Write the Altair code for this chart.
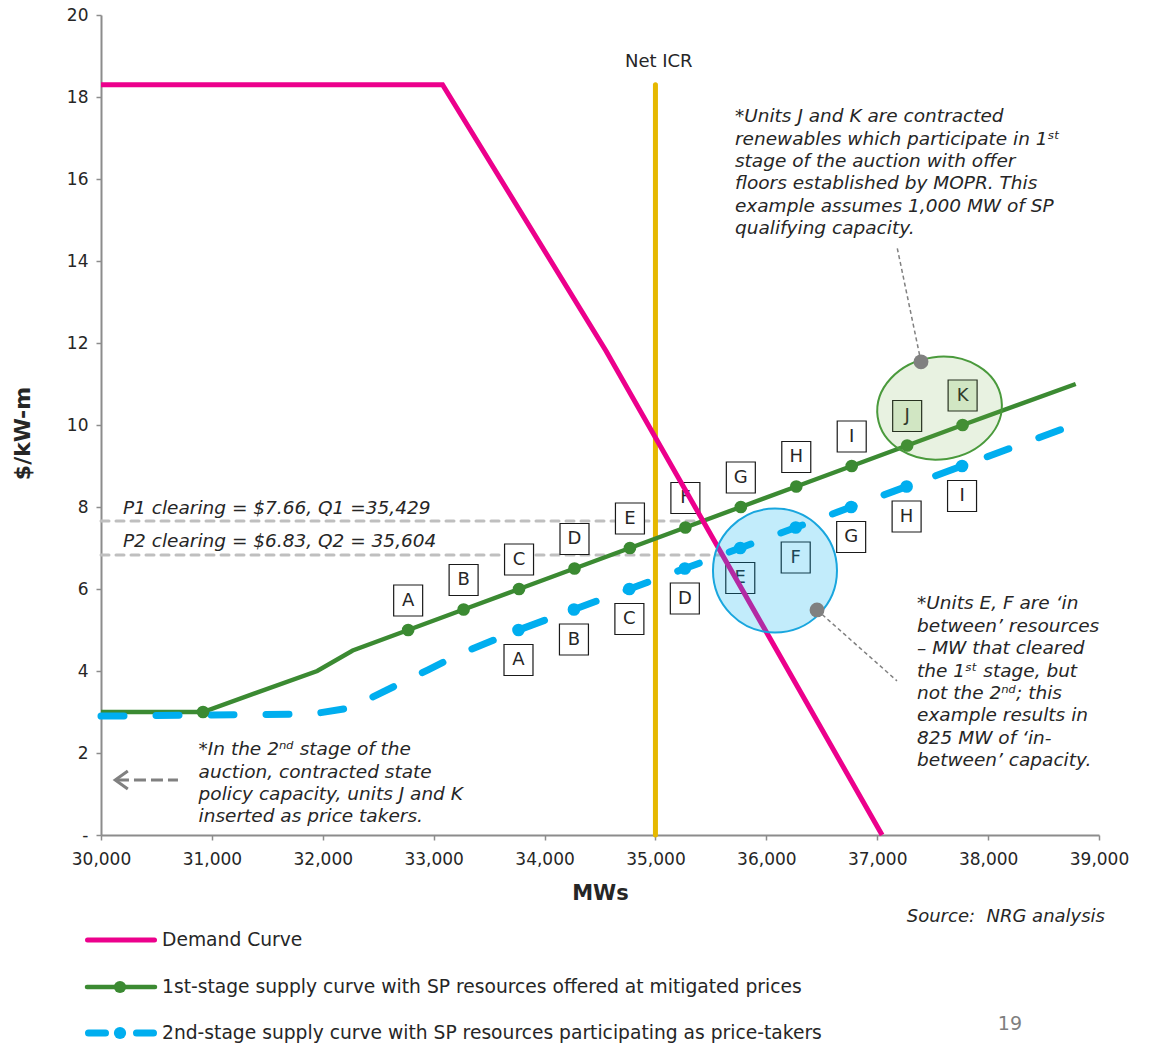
import altair as alt
import pandas as pd

FONT = "DejaVu Sans"
PINK = "#EC008C"
GREEN = "#3B8A32"
BLUE = "#00AEEF"
GOLD = "#E6B800"
GREY = "#808080"
LIGHTGREY = "#BFBFBF"
TEXT = "#262626"

# ---------------- data ----------------
demand_mw = [30000, 33080, 34556, 37044]
demand_price = [18.3, 18.3, 11.8, 0.0]

stage1_mw = [30000, 30920, 31950, 32270, 32770, 33270, 33770, 34270, 34770,
             35270, 35770, 36270, 36770, 37270, 37770, 38790]
stage1_price = [3.0, 3.0, 4.0, 4.5, 5.0, 5.5, 6.0, 6.5, 7.0, 7.5, 8.0, 8.5,
                9.0, 9.5, 10.0, 11.0]
stage1_dot = [0, 1, 0, 0, 1, 1, 1, 1, 1, 1, 1, 1, 1, 1, 1, 0]
stage1_unit = ["", "", "", "", "A", "B", "C", "D", "E", "F", "G", "H", "I",
               "J", "K", ""]

stage2_mw = [30000, 31900, 32250, 32950, 33265, 33765, 34265, 34765, 35265,
             35765, 36265, 36765, 37265, 37765, 38850]
stage2_price = [2.9, 2.95, 3.1, 4.03, 4.45, 5.0, 5.5, 6.0, 6.5, 7.0, 7.5, 8.0,
                8.5, 9.0, 10.08]
stage2_unit = ["", "", "", "", "", "A", "B", "C", "D", "E", "F", "G", "H", "I", ""]

net_icr_mw = [35000]
net_icr_top = [18.3]

clearing_price = [7.66, 6.83]
clearing_mw = [35429, 35604]
clearing_text = ["P1 clearing = $7.66, Q1 =35,429",
                 "P2 clearing = $6.83, Q2 = 35,604"]

legend_names = [
    "Demand Curve",
    "1st-stage supply curve with SP resources offered at mitigated prices",
    "2nd-stage supply curve with SP resources participating as price-takers",
]

note_jk = ("*Units J and K are contracted\nrenewables which participate in 1\u02e2\u1d57\n"
           "stage of the auction with offer\nfloors established by MOPR. This\n"
           "example assumes 1,000 MW of SP\nqualifying capacity.")
note_stage2 = ("*In the 2\u207f\u1d48 stage of the\nauction, contracted state\n"
               "policy capacity, units J and K\ninserted as price takers.")
note_ef = ("*Units E, F are \u2018in\nbetween\u2019 resources\n\u2013 MW that cleared\n"
           "the 1\u02e2\u1d57 stage, but\nnot the 2\u207f\u1d48; this\nexample results in\n"
           "825 MW of \u2018in-\nbetween\u2019 capacity.")

# annotation anchors (data coordinates)
notes = pd.DataFrame({
    "x": [35717, 30880, 37359],
    "y": [17.75, 2.31, 5.87],
    "t": [note_jk, note_stage2, note_ef],
})
ellipse_blue = pd.DataFrame({"x": [36078], "y": [6.45]})
ellipse_green = pd.DataFrame({"x": [37562], "y": [10.41]})
callout_dots = pd.DataFrame({"x": [37395, 36457], "y": [11.54, 5.49],
                             "x2": [37178, 37178], "y2": [14.35, 3.76]})
arrow = pd.DataFrame({"x": [30144], "x2": [30694], "y": [1.341], "xh": [30185]})

# ---------------- frames ----------------
demand = pd.DataFrame({"mw": demand_mw, "price": demand_price})
s1 = pd.DataFrame({"mw": stage1_mw, "price": stage1_price, "dot": stage1_dot,
                   "unit": stage1_unit})
s1["fill"] = ["#E4F1DC" if u in ("J", "K") else "white" for u in stage1_unit]
s2 = pd.DataFrame({"mw": stage2_mw, "price": stage2_price, "unit": stage2_unit})
s1_dots = s1[s1["dot"] == 1]
s1_lab = s1[s1["unit"] != ""]
s2_lab = s2[s2["unit"] != ""]
icr = pd.DataFrame({"mw": net_icr_mw, "top": net_icr_top})
clear = pd.DataFrame({"q": clearing_mw, "p": clearing_price, "x0": [30000, 30000],
                      "t": clearing_text, "ty": [7.98, 7.17], "tx": [30198, 30198]})

xs = alt.Scale(domain=[30000, 39000], nice=False, zero=False)
ys = alt.Scale(domain=[0, 20], nice=False, zero=False)

xaxis = alt.Axis(values=list(range(30000, 39001, 1000)), format=",.0f", title="MWs",
                 grid=False, labelFont=FONT, labelFontSize=17, labelColor=TEXT,
                 labelPadding=11, labelFlush=False, labelOverlap=False,
                 tickSize=5, tickColor="#8C8C8C", tickWidth=1.5,
                 domainColor="#8C8C8C", domainWidth=2,
                 titleFont=FONT, titleFontSize=21, titleFontWeight="bold",
                 titleColor=TEXT, titleX=499, titleY=58, titleBaseline="middle",
                 titleAlign="center")
yaxis = alt.Axis(values=list(range(0, 21, 2)), title="$/kW-m", grid=False,
                 labelExpr="datum.value == 0 ? '-' : datum.label",
                 labelFont=FONT, labelFontSize=17, labelColor=TEXT,
                 labelPadding=8, labelFlush=False, labelOverlap=False,
                 tickSize=5, tickColor="#8C8C8C", tickWidth=1.5,
                 domainColor="#8C8C8C", domainWidth=2,
                 titleFont=FONT, titleFontSize=22, titleFontWeight="bold",
                 titleColor=TEXT, titleX=-79, titleY=418, titleAngle=270,
                 titleBaseline="middle", titleAlign="center")


def X(f):
    return alt.X(f, type="quantitative", scale=xs, axis=xaxis)


def Y(f):
    return alt.Y(f, type="quantitative", scale=ys, axis=yaxis)


RECT = "M -0.935 -1 L 0.935 -1 L 0.935 1 L -0.935 1 Z"
k = 0.82
c = 0.5523
ELLIPSE = (f"M -1 0 C -1 {-c*k} {-c} {-k} 0 {-k} C {c} {-k} 1 {-c*k} 1 0 "
           f"C 1 {c*k} {c} {k} 0 {k} C {-c} {k} -1 {c*k} -1 0 Z")

layers = []

# clearing lines
layers.append(alt.Chart(clear).mark_rule(color=LIGHTGREY, strokeWidth=3,
                                         strokeDash=[8, 7], strokeCap="round")
              .encode(x=X("x0"), x2="q", y=Y("p")))
# Net ICR
layers.append(alt.Chart(icr).mark_rule(color=GOLD, strokeWidth=5, strokeCap="round")
              .encode(x=X("mw"), y=Y("top"), y2=alt.datum(0)))
# supply curves
layers.append(alt.Chart(s1).mark_line(color=GREEN, strokeWidth=4.5)
              .encode(x=X("mw"), y=Y("price")))
layers.append(alt.Chart(s2).mark_line(color=BLUE, strokeWidth=7, strokeDash=[23, 32],
                                      strokeCap="round")
              .encode(x=X("mw"), y=Y("price")))
layers.append(alt.Chart(s1_dots).mark_point(filled=True, size=160, color=GREEN, opacity=1)
              .encode(x=X("mw"), y=Y("price")))
layers.append(alt.Chart(s2_lab).mark_point(filled=True, size=160, color=BLUE, opacity=1)
              .encode(x=X("mw"), y=Y("price")))
# unit label boxes
layers.append(alt.Chart(s1_lab).mark_point(shape=RECT, size=961, filled=True, opacity=1,
                                           stroke="#1A1A1A", strokeWidth=1.2, yOffset=-29.5)
              .encode(x=X("mw"), y=Y("price"), fill=alt.Fill("fill:N", scale=None)))
layers.append(alt.Chart(s1_lab).mark_text(font=FONT, fontSize=18, color=TEXT, yOffset=-29.5)
              .encode(x=X("mw"), y=Y("price"), text="unit:N"))
layers.append(alt.Chart(s2_lab).mark_point(shape=RECT, size=961, filled=True, opacity=1,
                                           fill="white", stroke="#1A1A1A", strokeWidth=1.2,
                                           yOffset=30)
              .encode(x=X("mw"), y=Y("price")))
layers.append(alt.Chart(s2_lab).mark_text(font=FONT, fontSize=18, color=TEXT, yOffset=30)
              .encode(x=X("mw"), y=Y("price"), text="unit:N"))
# demand curve
layers.append(alt.Chart(demand).mark_line(color=PINK, strokeWidth=5)
              .encode(x=X("mw"), y=Y("price")))
# ellipses
layers.append(alt.Chart(ellipse_blue).mark_point(shape="circle", size=15376, filled=True,
                                                 opacity=1, fill=BLUE, fillOpacity=0.24,
                                                 stroke="#19A6DE", strokeWidth=2)
              .encode(x=X("x"), y=Y("y")))
layers.append(alt.Chart(ellipse_green).mark_point(shape=ELLIPSE, size=15625, filled=True,
                                                  opacity=1, fill="#70AD47", fillOpacity=0.16,
                                                  stroke="#4A9A3C", strokeWidth=2, angle=352)
              .encode(x=X("x"), y=Y("y")))
# callouts
layers.append(alt.Chart(callout_dots).mark_rule(color=GREY, strokeWidth=1.5, strokeDash=[4, 3])
              .encode(x=X("x"), y=Y("y"), x2="x2", y2="y2"))
layers.append(alt.Chart(callout_dots).mark_point(filled=True, size=220, color=GREY, opacity=1)
              .encode(x=X("x"), y=Y("y")))
layers.append(alt.Chart(arrow).mark_rule(color=GREY, strokeWidth=3, strokeDash=[12, 5])
              .encode(x=X("x"), x2="x2", y=Y("y")))
layers.append(alt.Chart(arrow).mark_point(shape="M 0.7 -1 L -0.7 0 L 0.7 1", size=324,
                                          filled=False, opacity=1, stroke=GREY, strokeWidth=3)
              .encode(x=X("xh"), y=Y("y")))
# texts
layers.append(alt.Chart(clear).mark_text(font=FONT, fontSize=18.5, fontStyle="italic",
                                         color=TEXT, align="left", baseline="middle")
              .encode(x=X("tx"), y=Y("ty"), text="t:N"))
layers.append(alt.Chart(notes).mark_text(font=FONT, fontSize=18.5, fontStyle="italic",
                                         color=TEXT, align="left", baseline="top",
                                         lineBreak="\n", lineHeight=22.4)
              .encode(x=X("x"), y=Y("y"), text="t:N"))
misc = pd.DataFrame({"x": [35030, 39054, 38197], "y": [18.85, -1.99, -4.61],
                     "t": ["Net ICR", "Source:\u00a0 NRG analysis", "19"]})
layers.append(alt.Chart(misc.iloc[[0]]).mark_text(font=FONT, fontSize=18, color=TEXT,
                                                  align="center", baseline="middle")
              .encode(x=X("x"), y=Y("y"), text="t:N"))
layers.append(alt.Chart(misc.iloc[[1]]).mark_text(font=FONT, fontSize=18, fontStyle="italic",
                                                  color=TEXT, align="right", baseline="middle")
              .encode(x=X("x"), y=Y("y"), text="t:N"))
layers.append(alt.Chart(misc.iloc[[2]]).mark_text(font=FONT, fontSize=19, color="#7F7F7F",
                                                  align="center", baseline="middle")
              .encode(x=X("x"), y=Y("y"), text="t:N"))

# legend (drawn below the plot)
leg_y = [925, 972, 1018]
for i, name in enumerate(legend_names):
    d = pd.DataFrame({"label": [name]})
    if i == 0:
        layers.append(alt.Chart(d).mark_rule(color=PINK, strokeWidth=5, strokeCap="round")
                      .encode(x=alt.value(-13.5), x2=alt.value(53.5), y=alt.value(leg_y[i])))
    elif i == 1:
        layers.append(alt.Chart(d).mark_rule(color=GREEN, strokeWidth=4.5, strokeCap="round")
                      .encode(x=alt.value(-14), x2=alt.value(54), y=alt.value(leg_y[i])))
        layers.append(alt.Chart(d).mark_point(filled=True, size=150, color=GREEN, opacity=1)
                      .encode(x=alt.value(19), y=alt.value(leg_y[i])))
    else:
        layers.append(alt.Chart(d).mark_rule(color=BLUE, strokeWidth=7, strokeCap="round",
                                             strokeDash=[17, 31])
                      .encode(x=alt.value(-12.5), x2=alt.value(52.5), y=alt.value(leg_y[i])))
        layers.append(alt.Chart(d).mark_point(filled=True, size=150, color=BLUE, opacity=1)
                      .encode(x=alt.value(19), y=alt.value(leg_y[i])))
    layers.append(alt.Chart(d).mark_text(font=FONT, fontSize=18.7, color=TEXT, align="left",
                                         baseline="middle")
                  .encode(x=alt.value(61), y=alt.value(leg_y[i]), text="label:N"))

chart = alt.layer(*layers).properties(
    width=998, height=820,
    autosize=alt.AutoSizeParams(type="none"),
    padding={"left": 101, "top": 15, "right": 55, "bottom": 209},
    background="white",
).configure_view(stroke=None)

chart.save("out.html", embed_options={"renderer": "svg", "actions": False})
